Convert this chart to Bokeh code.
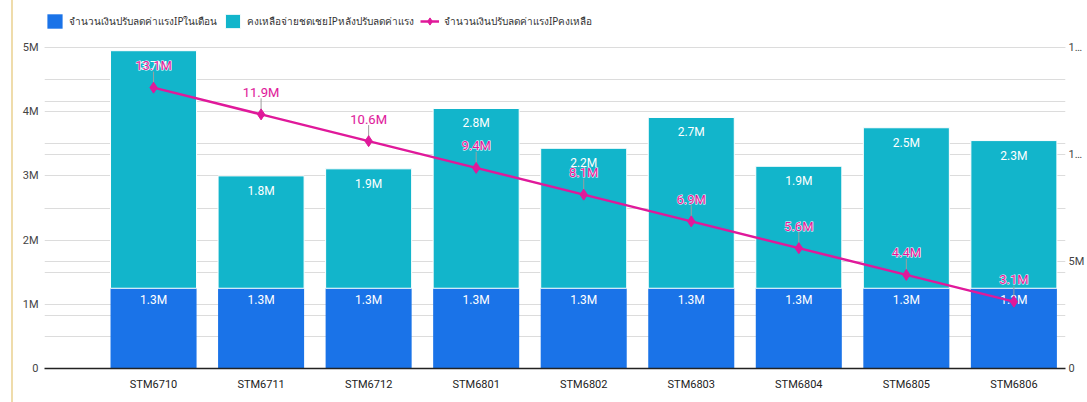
from decimal import Decimal, ROUND_HALF_UP
from bokeh.plotting import figure
from bokeh.models import (Range1d, LinearAxis, FixedTicker, Grid, Legend, LegendItem,
                          ColumnDataSource)
from bokeh.core.properties import value
from bokeh.embed import file_html
from bokeh.resources import INLINE

# ---------------- data ----------------
categories = ["STM6710", "STM6711", "STM6712", "STM6801", "STM6802",
              "STM6803", "STM6804", "STM6805", "STM6806"]
cut_in_month = [1_250_000, 1_250_000, 1_250_000, 1_250_000, 1_250_000,
                1_250_000, 1_250_000, 1_250_000, 1_250_000]
remaining_after_cut = [3_700_000, 1_750_000, 1_860_000, 2_800_000, 2_180_000,
                       2_660_000, 1_900_000, 2_500_000, 2_300_000]
cut_balance = [13_125_000, 11_875_000, 10_625_000, 9_375_000, 8_125_000,
               6_875_000, 5_625_000, 4_375_000, 3_125_000]

series_names = ["จำนวนเงินปรับลดค่าแรงIPในเดือน",
                "คงเหลือจ่ายชดเชยIPหลังปรับลดค่าแรง",
                "จำนวนเงินปรับลดค่าแรงIPคงเหลือ"]
left_ticks = [0, 1_000_000, 2_000_000, 3_000_000, 4_000_000, 5_000_000]
left_tick_labels = ["0", "1M", "2M", "3M", "4M", "5M"]
left_minor = [500_000, 1_500_000, 2_500_000, 3_500_000, 4_500_000]
right_ticks = [0, 5_000_000, 10_000_000, 15_000_000]
right_tick_labels = ["0", "5M", "1…", "1…"]
right_grid = [0, 2_500_000, 5_000_000, 7_500_000, 10_000_000, 12_500_000, 15_000_000]
LEFT_MAX = 5_000_000
RIGHT_MAX = 15_000_000

BLUE = "#1a73e8"
TEAL = "#12b5cb"
PINK = "#e0199a"
GRID = "#dcdcdc"
FONT = "Roboto"

# layout (px)
W, H = 1087, 402
FRAME_LEFT, FRAME_RIGHT, FRAME_BOTTOM = 44, 1070, 368
TOP_GAP = 47          # distance from canvas top to the max gridline


def fmt(v):
    d = (Decimal(v) / Decimal(1_000_000)).quantize(Decimal("0.1"), rounding=ROUND_HALF_UP)
    return f"{d}M"


xs = list(range(len(categories)))
tops = [a + b for a, b in zip(cut_in_month, remaining_after_cut)]
src = ColumnDataSource(dict(
    x=xs, cut=cut_in_month, rem=remaining_after_cut, top=tops, bal=cut_balance,
    cut_lbl=[fmt(v) for v in cut_in_month],
    rem_lbl=[fmt(v) for v in remaining_after_cut],
    bal_lbl=[fmt(v) for v in cut_balance],
    lead_top=[v + 750_000 for v in cut_balance],
))

# frame extends to the top of the canvas so that the legend fits inside it
scale = FRAME_BOTTOM / (FRAME_BOTTOM - TOP_GAP)
p = figure(width=W, height=H, output_backend="svg", toolbar_location=None,
           x_range=Range1d(-1.014, len(categories) - 1 + 0.48),
           y_range=Range1d(0, LEFT_MAX * scale),
           min_border_left=FRAME_LEFT, min_border_right=W - FRAME_RIGHT, min_border_top=0,
           min_border_bottom=H - FRAME_BOTTOM,
           styles={"background": "linear-gradient(to right, white 11px, #efdcab 11px, "
                                 "#efdcab 13px, white 13px)"})
p.extra_y_ranges = {"right": Range1d(0, RIGHT_MAX * scale)}
p.outline_line_color = None
p.background_fill_color = "white"
p.border_fill_alpha = 0

# grids
p.xgrid.visible = False
p.ygrid.ticker = FixedTicker(ticks=left_ticks, minor_ticks=left_minor)
p.ygrid.grid_line_color = GRID
p.ygrid.minor_grid_line_color = GRID
p.add_layout(Grid(dimension=1, y_range_name="right",
                  ticker=FixedTicker(ticks=right_grid),
                  grid_line_color=GRID))

# axes
p.xaxis.ticker = FixedTicker(ticks=xs)
p.xaxis.major_label_overrides = {i: c for i, c in zip(xs, categories)}
p.xaxis.major_tick_line_color = None
p.xaxis.major_tick_out = 0
p.xaxis.major_tick_in = 0
p.xaxis.minor_tick_line_color = None
p.xaxis.axis_line_color = "#222222"
p.xaxis.axis_line_width = 1.5
p.xaxis.major_label_text_font = FONT
p.xaxis.major_label_text_font_size = "11px"
p.xaxis.major_label_text_color = "#222222"
p.xaxis.major_label_standoff = 9

p.yaxis.ticker = FixedTicker(ticks=left_ticks)
p.yaxis.major_label_overrides = {t: l for t, l in zip(left_ticks, left_tick_labels)}
p.yaxis.axis_line_color = None
p.yaxis.major_tick_line_color = None
p.yaxis.major_tick_out = 0
p.yaxis.major_tick_in = 0
p.yaxis.minor_tick_line_color = None
p.yaxis.major_label_text_font = FONT
p.yaxis.major_label_text_font_size = "11px"
p.yaxis.major_label_text_color = "#444444"
p.yaxis.major_label_standoff = 6

ra = LinearAxis(y_range_name="right", ticker=FixedTicker(ticks=right_ticks))
ra.major_label_overrides = {t: l for t, l in zip(right_ticks, right_tick_labels)}
ra.axis_line_color = None
ra.major_tick_line_color = None
ra.major_tick_out = 0
ra.major_tick_in = 0
ra.minor_tick_line_color = None
ra.major_label_text_font = FONT
ra.major_label_text_font_size = "11px"
ra.major_label_text_color = "#444444"
ra.major_label_standoff = 3
p.add_layout(ra, "right")

# bars
r_blue = p.vbar(x="x", bottom=0, top="cut", width=0.8, source=src,
                fill_color=BLUE, line_color=None)
r_teal = p.vbar(x="x", bottom="cut", top="top", width=0.8, source=src,
                fill_color=TEAL, line_color="white", line_width=1)

# bar labels
p.text(x="x", y="cut", text="cut_lbl", source=src, y_offset=12,
       text_align="center", text_baseline="middle", text_color="white",
       text_font=value(FONT), text_font_size="12px")
p.text(x="x", y="top", text="rem_lbl", source=src, y_offset=15,
       text_align="center", text_baseline="middle", text_color="white",
       text_font=value(FONT), text_font_size="12px")

# line series
p.segment(x0="x", y0="bal", x1="x", y1="lead_top", source=src, y_range_name="right",
          line_color="#9e9e9e", line_width=1)
r_line = p.line(x="x", y="bal", source=src, y_range_name="right",
                line_color=PINK, line_width=2.5)
r_pts = p.scatter(x="x", y="bal", source=src, y_range_name="right", marker="diamond",
                  size=11, fill_color=PINK, line_color=PINK)
# white halo layer, then the plain label on top
p.text(x="x", y="bal", text="bal_lbl", source=src, y_range_name="right", y_offset=-22,
       text_align="center", text_baseline="middle", text_color=PINK,
       text_font=value(FONT), text_font_size="13px",
       text_outline_color="white")
p.text(x="x", y="bal", text="bal_lbl", source=src, y_range_name="right", y_offset=-22,
       text_align="center", text_baseline="middle", text_color=PINK,
       text_font=value(FONT), text_font_size="13px")

legend = Legend(items=[LegendItem(label=series_names[0], renderers=[r_blue]),
                       LegendItem(label=series_names[1], renderers=[r_teal]),
                       LegendItem(label=series_names[2], renderers=[r_line, r_pts])],
                location=(1, FRAME_BOTTOM - 30), orientation="horizontal",
                glyph_width=19, glyph_height=18, label_standoff=5, spacing=6,
                padding=0, margin=0, border_line_alpha=0, background_fill_alpha=0,
                label_text_font="Noto Sans", label_text_font_size="10px",
                label_text_color="#333333")
p.add_layout(legend, "center")

open("out.html", "w").write(file_html(p, INLINE))
